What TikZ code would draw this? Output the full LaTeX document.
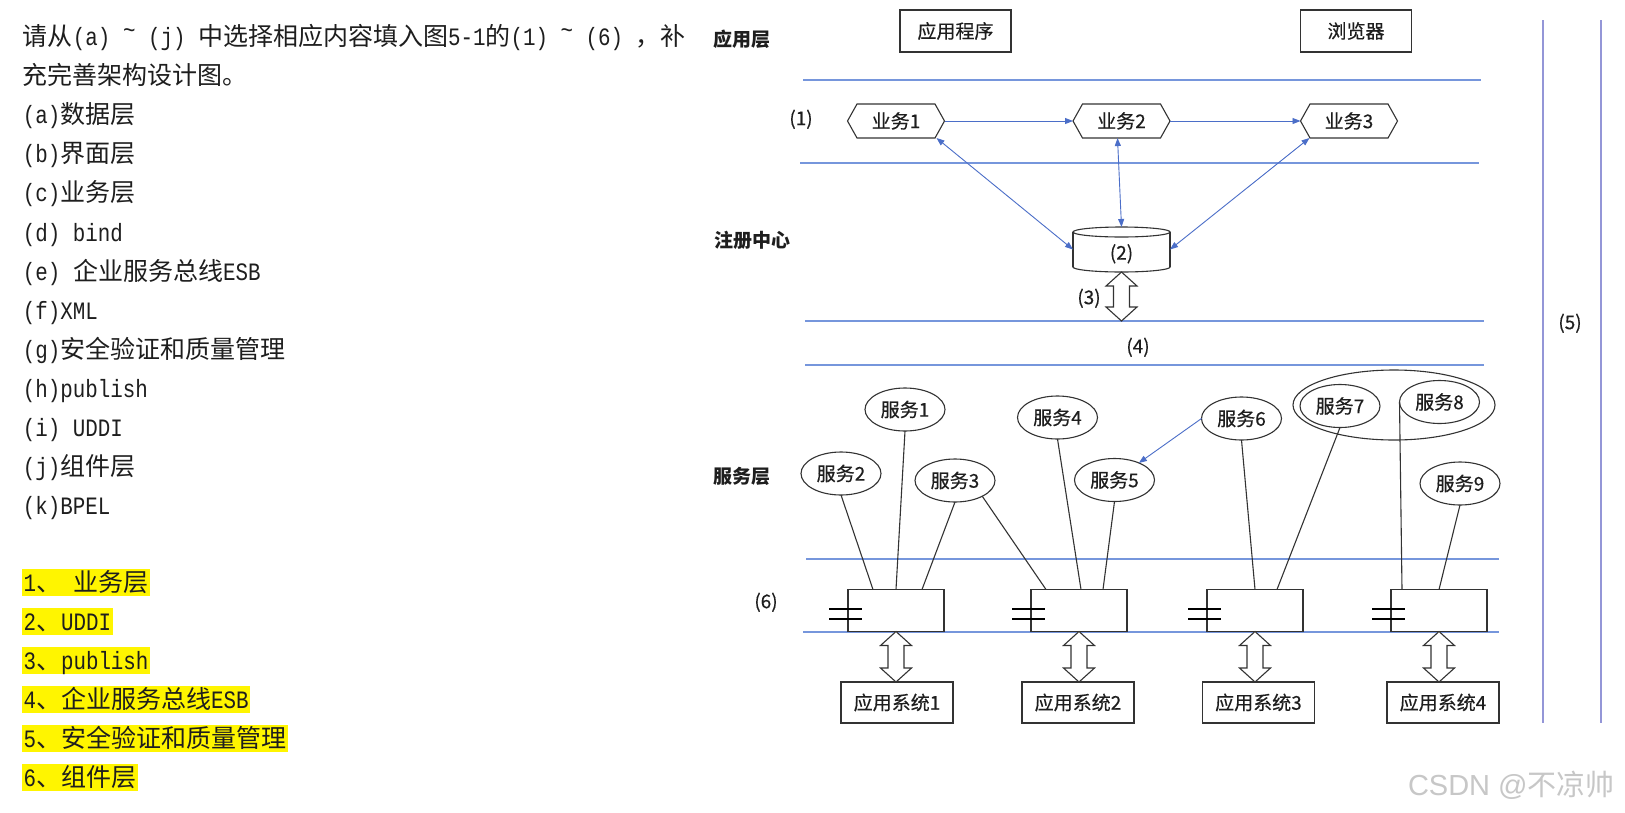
\documentclass[tikz,border=0pt]{standalone}
\usepackage{fontspec}
\setmainfont{Noto Sans CJK SC}
\newfontfamily\dfont{Noto Sans CJK SC}[FakeBold=0.4]
\newfontfamily\asc{Liberation Mono}[FakeStretch=0.8333]
\newfontfamily\wmfont{Liberation Sans}
\usetikzlibrary{arrows.meta,calc,shapes.geometric}
\definecolor{layerblue}{RGB}{118,150,220}
\definecolor{arrowblue}{RGB}{75,110,200}
\definecolor{vlinecol}{RGB}{148,150,215}
\definecolor{hlyellow}{RGB}{255,245,0}
\definecolor{ink}{RGB}{30,30,30}
\newcommand{\AS}[1]{{\asc #1}}
\newcommand{\tld}{\raisebox{0.3em}{\textasciitilde}}
\newcommand{\hexdraw}[1]{\draw[hexline] (#1.west) -- ([xshift=9.5pt]#1.north west) -- ([xshift=-9.5pt]#1.north east) -- (#1.east) -- ([xshift=-9.5pt]#1.south east) -- ([xshift=9.5pt]#1.south west) -- cycle;}
\newcommand{\dbarrow}[2]{\draw[hollow] let \p1=(#1), \p2=(#2) in (\x1,\y1) -- (\x1+15.5pt,\y1-14pt) -- (\x1+8pt,\y1-14pt) -- (\x1+8pt,\y2+14pt) -- (\x1+15.5pt,\y2+14pt) -- (\x1,\y2) -- (\x1-15.5pt,\y2+14pt) -- (\x1-8pt,\y2+14pt) -- (\x1-8pt,\y1-14pt) -- (\x1-15.5pt,\y1-14pt) -- cycle;}
\begin{document}
\begin{tikzpicture}[x=1pt,y=-1pt,
  every node/.style={inner sep=0pt, outer sep=0pt},
  dtext/.style={font=\fontsize{19}{22}\dfont, text=ink, text height=15.2pt, text depth=0.8pt},
  boldlbl/.style={dtext, font=\fontsize{19}{22}\selectfont\bfseries},
  qtext/.style={anchor=west, font=\fontsize{25}{30}\selectfont, text height=22.5pt, text depth=4.5pt, text=ink, inner xsep=0pt},
  ans/.style={qtext, fill=hlyellow, inner xsep=1.5pt},
  sepline/.style={draw=layerblue, line width=1.4pt},
  vline/.style={draw=vlinecol, line width=1.4pt},
  topbox/.style={dtext, draw=black!80, line width=1.1pt, minimum width=111pt, minimum height=42pt},
  sysbox/.style={dtext, draw=black!80, line width=1.1pt, minimum width=112pt, minimum height=41pt},
  hexnode/.style={dtext, minimum width=97pt, minimum height=34pt},
  hexline/.style={draw=black!80, line width=1.1pt},
  cylline/.style={draw=black!80, line width=1.1pt},
  svc/.style={dtext, ellipse, draw=black!80, line width=1.1pt, minimum width=80pt, minimum height=43pt},
  comp/.style={draw=black!80, line width=1.1pt, minimum width=96pt, minimum height=42pt},
  link/.style={draw=black!80, line width=1.1pt},
  barrow/.style={draw=arrowblue, line width=0.9pt, -{Triangle[length=8pt,width=6pt]}},
  dbarr/.style={draw=arrowblue, line width=0.9pt, {Triangle[length=8pt,width=6pt]}-{Triangle[length=8pt,width=6pt]}},
  hollow/.style={draw=black!80, line width=1.1pt, fill=white, line join=miter},
  eqmark/.style={draw=black, line width=2.2pt},
]
\fill[white] (0,0) rectangle (1625,812);
\useasboundingbox (0,0) rectangle (1625,812);

% ---------- left question text ----------
\node[qtext] (q1) at (23,36.5) {请从\AS{(a) \tld{} (j) }中选择相应内容填入图\AS{5-1}的\AS{(1) \tld{} (6) }，补};
\node[qtext] (q2) at (23,75.6) {充完善架构设计图。};
\node[qtext] (q3) at (23,114.7) {\AS{(a)}数据层};
\node[qtext] (q4) at (23,153.8) {\AS{(b)}界面层};
\node[qtext] (q5) at (23,192.9) {\AS{(c)}业务层};
\node[qtext] (q6) at (23,232) {\AS{(d) bind}};
\node[qtext] (q7) at (23,271.1) {\AS{(e) }企业服务总线\AS{ESB}};
\node[qtext] (q8) at (23,310.2) {\AS{(f)XML}};
\node[qtext] (q9) at (23,349.3) {\AS{(g)}安全验证和质量管理};
\node[qtext] (q10) at (23,388.4) {\AS{(h)publish}};
\node[qtext] (q11) at (23,427.5) {\AS{(i) UDDI}};
\node[qtext] (q12) at (23,466.6) {\AS{(j)}组件层};
\node[qtext] (q13) at (23,505.7) {\AS{(k)BPEL}};

% ---------- answers ----------
\node[ans] (a1t) at (22,582) {\AS{1}、\AS{\ }业务层};
\node[ans] (a2t) at (22,621.1) {\AS{2}、\AS{UDDI}};
\node[ans] (a3t) at (22,660.2) {\AS{3}、\AS{publish}};
\node[ans] (a4t) at (22,699.3) {\AS{4}、企业服务总线\AS{ESB}};
\node[ans] (a5t) at (22,738.4) {\AS{5}、安全验证和质量管理};
\node[ans] (a6t) at (22,777.5) {\AS{6}、组件层};

% ---------- layer separators ----------
\draw[sepline] (803,80) -- (1481,80);
\draw[sepline] (800,163) -- (1479,163);
\draw[sepline] (805,321) -- (1484,321);
\draw[sepline] (805,365) -- (1484,365);
\draw[sepline] (806,559) -- (1499,559);
\draw[sepline] (803,632) -- (1499,632);
\draw[vline] (1543,20) -- (1543,723);
\draw[vline] (1601,20) -- (1601,723);
\coordinate (l3) at (1121.5,321);

% ---------- labels ----------
\node[boldlbl] (lapp) at (742,39) {应用层};
\node[dtext] (n1) at (801,118) {(1)};
\node[boldlbl] (lreg) at (752,240) {注册中心};
\node[dtext] (n3) at (1089,297) {(3)};
\node[dtext] (n4) at (1138,346) {(4)};
\node[dtext] (n5) at (1570,322) {(5)};
\node[boldlbl] (lsvc) at (742,476) {服务层};
\node[dtext] (n6) at (766,601) {(6)};

% ---------- application layer ----------
\node[topbox] (app) at (955.5,31) {应用程序};
\node[topbox] (brw) at (1356,31) {浏览器};

% ---------- business ----------
\node[hexnode] (b1) at (896,121) {业务1};
\node[hexnode] (b2) at (1121.5,121) {业务2};
\node[hexnode] (b3) at (1349,121) {业务3};
\hexdraw{b1}
\hexdraw{b2}
\hexdraw{b3}

% ---------- registry cylinder ----------
\path node[minimum width=97pt, minimum height=45pt] (cyl) at (1121.5,249.5) {};
\draw[cylline] ($(cyl.south)+(0,-5)$) ellipse [x radius=48.5, y radius=5];
\fill[white] ($(cyl.north west)+(0,5)$) rectangle ($(cyl.south east)+(0,-5)$);
\draw[cylline] ($(cyl.north west)+(0,5)$) -- ($(cyl.south west)+(0,-5)$);
\draw[cylline] ($(cyl.north east)+(0,5)$) -- ($(cyl.south east)+(0,-5)$);
\draw[cylline, fill=white] ($(cyl.north)+(0,5)$) ellipse [x radius=48.5, y radius=5];
\node[dtext] (cyltxt) at ($(cyl.center)+(0,3)$) {(2)};

\draw[barrow] (b1.east) -- (b2.west);
\draw[barrow] (b2.east) -- (b3.west);
\draw[dbarr] ([xshift=-8pt]b1.south east) -- (cyl.west);
\draw[dbarr] ([xshift=-4pt]b2.south) -- (cyl.north);
\draw[dbarr] ([xshift=9pt]b3.south west) -- (cyl.east);

\dbarrow{cyl.south}{l3}

% ---------- services ----------
\node[svc] (s1) at (905,409.5) {服务1};
\node[svc] (s2) at (841,473.5) {服务2};
\node[svc] (s3) at (955,480.5) {服务3};
\node[svc] (s4) at (1057.5,417.5) {服务4};
\node[svc] (s5) at (1114.5,480) {服务5};
\node[svc] (s6) at (1241.5,418.5) {服务6};
\node[svc] (s7) at (1340,406) {服务7};
\node[svc] (s8) at (1439.5,402) {服务8};
\node[svc] (s9) at (1460,483.5) {服务9};
\node[ellipse, draw=black!80, line width=1.1pt, minimum width=202pt, minimum height=70pt] (grp) at (1394,405) {};

\draw[barrow] (s6.west) -- (s5.35);

% ---------- components ----------
\node[comp] (r1) at (896,610.5) {};
\node[comp] (r2) at (1079,610.5) {};
\node[comp] (r3) at (1255,610.5) {};
\node[comp] (r4) at (1439,610.5) {};
\foreach \r in {r1,r2,r3,r4}{
  \draw[eqmark] ($(\r.west)+(-19,-1.3)$) -- ++(33,0);
  \draw[eqmark] ($(\r.west)+(-19,8.7)$) -- ++(33,0);
}

\draw[link] (s2.south) -- ([xshift=-23pt]r1.north);
\draw[link] (s1.south) -- (r1.north);
\draw[link] (s3.south) -- ([xshift=26pt]r1.north);
\draw[link] (s3.-30) -- ([xshift=15pt]r2.north west);
\draw[link] (s4.south) -- ([xshift=2pt]r2.north);
\draw[link] (s5.south) -- ([xshift=24pt]r2.north);
\draw[link] (s6.south) -- (r3.north);
\draw[link] (s7.south) -- ([xshift=22pt]r3.north);
\draw[link] (s8.west) -- ([xshift=11pt]r4.north west);
\draw[link] (s9.south) -- (r4.north);

% ---------- application systems ----------
\node[sysbox] (as1) at (897,702.5) {应用系统1};
\node[sysbox] (as2) at (1078,702.5) {应用系统2};
\node[sysbox] (as3) at (1258.5,702.5) {应用系统3};
\node[sysbox] (as4) at (1443,702.5) {应用系统4};
\dbarrow{r1.south}{as1.north}
\dbarrow{r2.south}{as2.north}
\dbarrow{r3.south}{as3.north}
\dbarrow{r4.south}{as4.north}

% ---------- watermark ----------
\node[anchor=base west, font=\fontsize{29}{32}\selectfont, text=black!22] (wm) at (1408,795) {{\wmfont CSDN @}不凉帅};
\end{tikzpicture}
\end{document}
